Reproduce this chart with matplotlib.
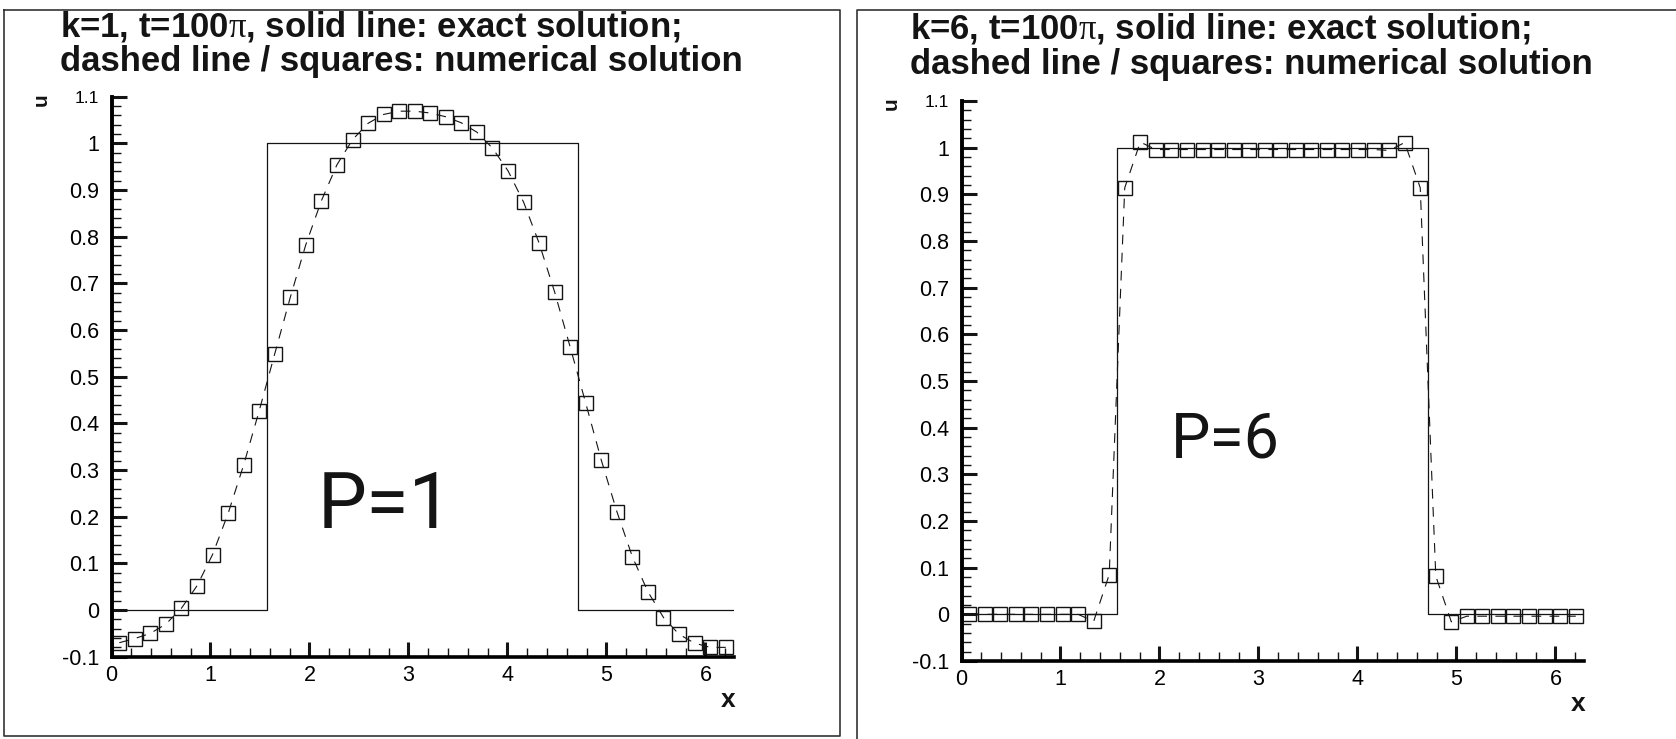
import numpy as np
import matplotlib.pyplot as plt
from matplotlib.ticker import MultipleLocator
from matplotlib.lines import Line2D

plt.rcParams['font.family'] = ['Liberation Sans', 'DejaVu Sans']
plt.rcParams['mathtext.fontset'] = 'custom'
plt.rcParams['mathtext.rm'] = 'Liberation Serif'
plt.rcParams['lines.scale_dashes'] = False

# cell centres of the 40-cell grid on [0, 2pi]
x_cells = [0.079, 0.236, 0.393, 0.550, 0.707, 0.864, 1.021, 1.178, 1.335, 1.492,
           1.649, 1.806, 1.963, 2.120, 2.277, 2.435, 2.592, 2.749, 2.906, 3.063,
           3.220, 3.377, 3.534, 3.691, 3.848, 4.006, 4.163, 4.320, 4.477, 4.634,
           4.791, 4.948, 5.105, 5.262, 5.419, 5.576, 5.733, 5.890, 6.048, 6.205]

# numerical solution, k=1 (P=1)
u_k1 = [-0.070, -0.061, -0.050, -0.030, 0.004, 0.052, 0.119, 0.207, 0.311, 0.427,
        0.549, 0.670, 0.783, 0.877, 0.954, 1.008, 1.043, 1.062, 1.069, 1.069,
        1.065, 1.057, 1.044, 1.024, 0.990, 0.941, 0.874, 0.786, 0.681, 0.563,
        0.443, 0.321, 0.211, 0.114, 0.039, -0.016, -0.052, -0.071, -0.080, -0.080]

# numerical solution, k=6 (P=6)
u_k6 = [0.000, 0.000, 0.000, 0.000, 0.000, 0.000, 0.000, 0.000, -0.015, 0.085,
        0.914, 1.012, 0.996, 0.996, 0.996, 0.996, 0.996, 0.996, 0.996, 0.996,
        0.996, 0.996, 0.996, 0.996, 0.996, 0.996, 0.996, 0.994, 1.011, 0.914,
        0.082, -0.016, -0.004, -0.004, -0.004, -0.004, -0.004, -0.004, -0.004, -0.004]

# exact solution (square wave)
exact_x = [0.0, 1.571, 1.571, 4.712, 4.712, 6.283]
exact_u = [0.0, 0.0, 1.0, 1.0, 0.0, 0.0]

x_ticks = [0, 1, 2, 3, 4, 5, 6]
x_tick_labels = ['0', '1', '2', '3', '4', '5', '6']
y_ticks = [-0.1, 0, 0.1, 0.2, 0.3, 0.4, 0.5, 0.6, 0.7, 0.8, 0.9, 1.0, 1.1]
y_tick_labels = ['-0.1', '0', '0.1', '0.2', '0.3', '0.4', '0.5', '0.6', '0.7',
                 '0.8', '0.9', '1', '1.1']

titles = [[r'k=1, t=100$\mathrm{\pi}$, solid line: exact solution;',
           'dashed line / squares: numerical solution'],
          [r'k=6, t=100$\mathrm{\pi}$, solid line: exact solution;',
           'dashed line / squares: numerical solution']]

W, H = 1676, 739
fig = plt.figure(figsize=(W / 100, H / 100), dpi=100)
ink = '#141414'


def fx(x):
    return x / W


def fy(y):
    return 1 - y / H


def panel(left_px, top_px, u_num, title, title_px, p_text, p_xy, p_size):
    ax = fig.add_axes([fx(left_px), fy(top_px + 560), 622 / W, 560 / H])
    ax.patch.set_alpha(0)
    ax.plot(exact_x, exact_u, color=ink, lw=0.9)
    ax.plot(x_cells, u_num, color=ink, lw=0.8, dashes=(7, 6), marker='s', ms=10.5,
            mfc='none', mec=ink, mew=1.0, clip_on=False)
    ax.set_xlim(0, 2 * np.pi)
    ax.set_ylim(-0.1, 1.1)
    for s in ['top', 'right']:
        ax.spines[s].set_visible(False)
    ax.spines['left'].set_linewidth(2.8)
    ax.spines['bottom'].set_linewidth(2.6)
    ax.set_xticks(x_ticks)
    ax.set_xticklabels(x_tick_labels)
    ax.set_yticks(y_ticks)
    ax.set_yticklabels(y_tick_labels)
    ax.xaxis.set_minor_locator(MultipleLocator(0.2))
    ax.yaxis.set_minor_locator(MultipleLocator(0.02))
    ax.tick_params(which='major', direction='in', length=11, width=2.2,
                   labelsize=15.5, color=ink)
    ax.tick_params(axis='y', which='major', pad=9)
    ax.tick_params(axis='x', which='major', pad=6)
    ax.tick_params(which='minor', direction='in', length=6.5, width=1.0, color=ink)
    ax.get_yticklabels()[-1].set_fontsize(12.5)

    # handwritten note
    ax.text(p_xy[0], p_xy[1], p_text, fontsize=p_size, family=['Roboto', 'DejaVu Sans'],
            fontweight='normal', color=ink)

    fig.text(fx(title_px[0]), fy(title_px[1]), title[0], fontsize=25,
             fontweight='bold', va='baseline', color=ink)
    fig.text(fx(title_px[0]), fy(title_px[1] + 35), title[1], fontsize=25,
             fontweight='bold', va='baseline', color=ink)

    fig.text(fx(left_px - 70), fy(top_px + 3), 'u', fontsize=15, fontweight='bold',
             rotation=90, ha='center', va='center', color=ink)
    fig.text(fx(left_px + 617), fy(top_px + 603), 'x', fontsize=19, fontweight='bold',
             ha='center', va='center', color=ink)
    return ax


panel(111.5, 96.7, u_k1, titles[0], (60, 36), 'P=1', (2.08, 0.175), 56)
panel(961.5, 101.0, u_k6, titles[1], (910, 39), 'P=6', (2.12, 0.335), 45)

# scanned page frames
frame = dict(color='#333333', lw=1.2, transform=fig.transFigure)
fig.add_artist(Line2D([fx(4), fx(840), fx(840), fx(4), fx(4)],
                      [fy(10), fy(10), fy(736), fy(736), fy(10)], **frame))
fig.add_artist(Line2D([fx(857), fx(857), fx(1676)],
                      [fy(739), fy(10), fy(10)], **frame))

fig.savefig('out.png', dpi=100)
